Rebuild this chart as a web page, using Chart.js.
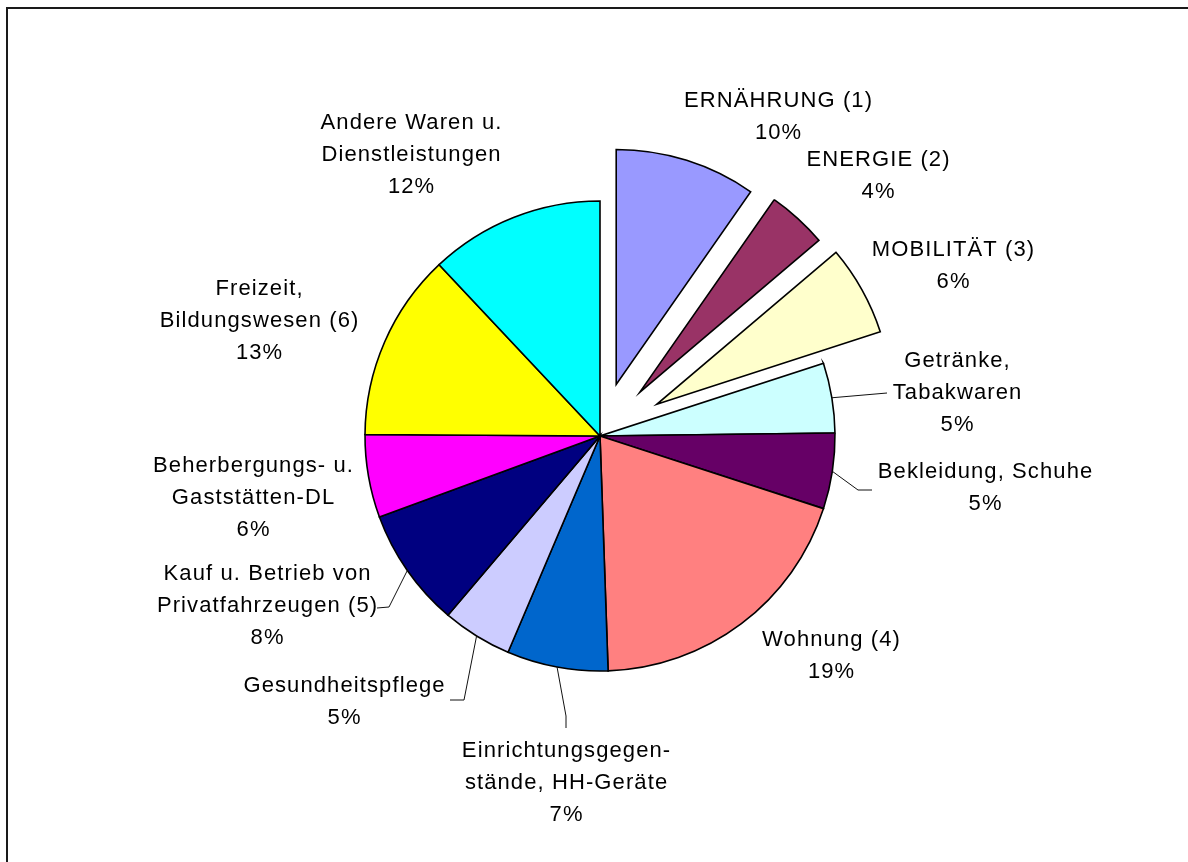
<!DOCTYPE html>
<html>
<head>
<meta charset="utf-8">
<script src="https://cdn.jsdelivr.net/npm/chart.js@4/dist/chart.umd.min.js"></script>
<style>
html, body { margin: 0; padding: 0; background: #fff; overflow: hidden; width: 1188px; height: 862px; }
#frame { position: absolute; left: 6px; top: 7px; width: 2000px; height: 2000px; border: 2px solid #1a1a1a; box-sizing: border-box; }
#c { position: absolute; left: 0; top: 0; }
</style>
</head>
<body>
<div id="frame"></div>
<canvas id="c" width="1188" height="862"></canvas>
<script>
// ---- data ----
const categories = [
  'ERNÄHRUNG (1)',
  'ENERGIE (2)',
  'MOBILITÄT (3)',
  'Getränke,\nTabakwaren',
  'Bekleidung, Schuhe',
  'Wohnung (4)',
  'Einrichtungsgegen-\nstände, HH-Geräte',
  'Gesundheitspflege',
  'Kauf u. Betrieb von\nPrivatfahrzeugen (5)',
  'Beherbergungs- u.\nGaststätten-DL',
  'Freizeit,\nBildungswesen (6)',
  'Andere Waren u.\nDienstleistungen'
];
const shares = [9.7, 4.1, 6.2, 4.8, 5.2, 19.45, 6.95, 4.8, 8.2, 5.7, 12.9, 12.0];

// ---- styles ----
const colors = ['#9999FF', '#993366', '#FFFFCC', '#CCFFFF', '#660066', '#FF8080',
                '#0066CC', '#CCCCFF', '#000080', '#FF00FF', '#FFFF00', '#00FFFF'];
const explode = [54, 59, 65, 0, 0, 0, 0, 0, 0, 0, 0, 0];

// label anchor: [center x, first baseline y] relative to pie centre; leader elbow points relative to pie centre
const labelLayout = [
  { at: [178, -329] },
  { at: [278, -270] },
  { at: [353, -180] },
  { at: [357, -69], leader: [[287, -43]] },
  { at: [385, 42], leader: [[258, 54], [272, 54]] },
  { at: [231, 210] },
  { at: [-34, 321], leader: [[-34, 280], [-34, 292]] },
  { at: [-256, 256], leader: [[-136, 264], [-150, 264]] },
  { at: [-333, 144], leader: [[-211, 171], [-223, 172]] },
  { at: [-347, 36] },
  { at: [-341, -141] },
  { at: [-189, -307] }
];
const LINE_H = 31.8;

const explodePlugin = {
  id: 'explodeSlices',
  afterDatasetUpdate(chart, args) {
    args.meta.data.forEach((el, i) => {
      const d = explode[i] || 0;
      if (!d) return;
      const mid = (el.startAngle + el.endAngle) / 2;
      el.x += Math.cos(mid) * d;
      el.y += Math.sin(mid) * d;
    });
  }
};

const labelPlugin = {
  id: 'sliceLabels',
  afterDatasetsDraw(chart) {
    const ctx = chart.ctx;
    const meta = chart.getDatasetMeta(0);
    const ca = chart.chartArea;
    const cx = (ca.left + ca.right) / 2;
    const cy = (ca.top + ca.bottom) / 2;
    ctx.save();
    ctx.font = '22px "Liberation Sans", Arial, sans-serif';
    let ls = 0;
    if ('letterSpacing' in ctx) { ctx.letterSpacing = '1.1px'; ls = 1.1; }
    ctx.textAlign = 'center';
    ctx.textBaseline = 'alphabetic';
    meta.data.forEach((el, i) => {
      const lay = labelLayout[i];
      if (lay.leader) {
        const mid = (el.startAngle + el.endAngle) / 2;
        const r = el.outerRadius;
        ctx.beginPath();
        ctx.moveTo(el.x + Math.cos(mid) * r, el.y + Math.sin(mid) * r);
        lay.leader.forEach(p => ctx.lineTo(cx + p[0], cy + p[1]));
        ctx.strokeStyle = '#111';
        ctx.lineWidth = 1;
        ctx.stroke();
      }
      const lines = categories[i].split('\n').concat([Math.round(shares[i]) + '%']);
      ctx.fillStyle = '#000';
      lines.forEach((t, k) => {
        ctx.fillText(t, cx + lay.at[0] + ls / 2, cy + lay.at[1] + k * LINE_H);
      });
    });
    ctx.restore();
  }
};

new Chart(document.getElementById('c'), {
  type: 'pie',
  data: {
    labels: categories,
    datasets: [{
      data: shares,
      backgroundColor: colors,
      borderColor: '#000',
      borderWidth: 1.6,
      borderJoinStyle: 'miter'
    }]
  },
  options: {
    responsive: false,
    animation: false,
    events: [],
    radius: 235,
    layout: { padding: { left: 112, right: 100, top: 60, bottom: 50 } },
    plugins: {
      legend: { display: false },
      tooltip: { enabled: false }
    }
  },
  plugins: [explodePlugin, labelPlugin]
});
</script>
</body>
</html>
